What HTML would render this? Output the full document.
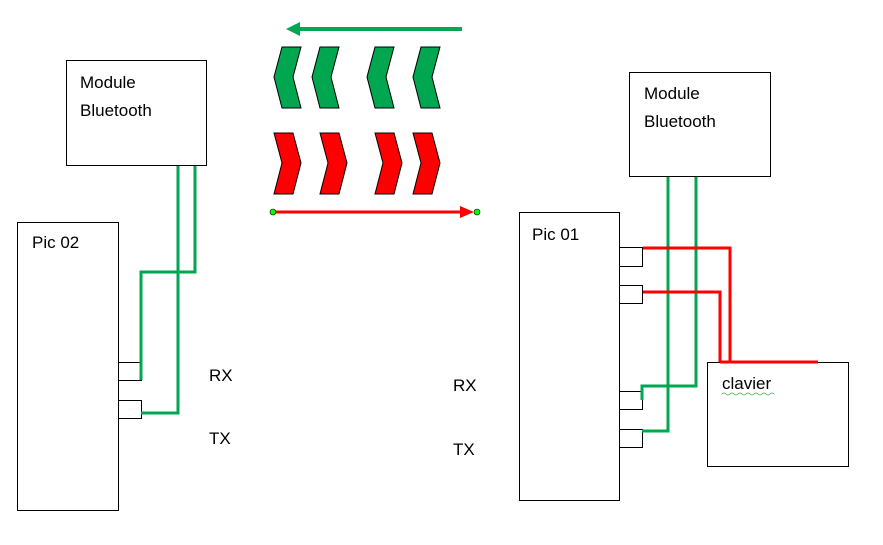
<!DOCTYPE html>
<html><head><meta charset="utf-8"><style>
body{margin:0;background:#fff;}
svg{display:block;font-family:"Liberation Sans",sans-serif;}
</style></head><body>
<svg width="883" height="545" viewBox="0 0 883 545">
<defs>
<polygon id="gc" points="8,0 27,0 19,30 27,61 8,61 0,30" fill="#00a650" stroke="#000" stroke-width="1"/>
<polygon id="rc" points="0,0 19,0 27,30 19,61 0,61 8,30" fill="#ff0000" stroke="#000" stroke-width="1"/>
</defs>
<g fill="none" stroke="#000" stroke-width="1">
<rect x="66.5" y="60.5" width="140" height="105"/>
<rect x="17.5" y="222.5" width="101" height="288"/>
<rect x="118.5" y="362.5" width="23" height="18"/>
<rect x="118.5" y="400.5" width="23" height="18"/>
<rect x="629.5" y="72.5" width="141" height="104"/>
<rect x="519.5" y="212.5" width="100" height="288"/>
<rect x="619.5" y="247.5" width="23" height="19"/>
<rect x="619.5" y="285.5" width="23" height="18"/>
<rect x="619.5" y="391.5" width="23" height="18"/>
<rect x="619.5" y="429.5" width="23" height="18"/>
<rect x="707.5" y="362.5" width="141" height="104"/>
</g>
<g fill="none" stroke="#00a650" stroke-width="3">
<polyline points="178,166 178,413 141,413"/>
<polyline points="195,166 195,272 141,272 141,380"/>
<polyline points="668,177 668,431 642,431"/>
<polyline points="696,177 696,386 642,386 642,400"/>
</g>
<g fill="none" stroke="#ff0000" stroke-width="3">
<polyline points="643,248 730,248 730,362"/>
<polyline points="643,292 720,292 720,362"/>
<line x1="720" y1="362" x2="818" y2="362"/>
</g>
<use href="#gc" x="274" y="47"/><use href="#gc" x="312" y="47"/><use href="#gc" x="367" y="47"/><use href="#gc" x="413" y="47"/>
<use href="#rc" x="274" y="133"/><use href="#rc" x="320" y="133"/><use href="#rc" x="375" y="133"/><use href="#rc" x="413" y="133"/>
<line x1="462" y1="29" x2="298" y2="29" stroke="#00a650" stroke-width="4"/>
<polygon points="286,29 300,22 300,36" fill="#00a650"/>
<line x1="273" y1="212" x2="462" y2="212" stroke="#ff0000" stroke-width="3"/>
<polygon points="474,212 460,206 460,218" fill="#ff0000"/>
<circle cx="273" cy="212" r="3" fill="#00ff00" stroke="#000" stroke-width="0.6"/>
<circle cx="477" cy="212" r="3" fill="#00ff00" stroke="#000" stroke-width="0.6"/>
<g font-size="17" fill="#000">
<text x="80" y="88">Module</text>
<text x="80" y="116">Bluetooth</text>
<text x="32" y="248">Pic 02</text>
<text x="209" y="381">RX</text>
<text x="209" y="444">TX</text>
<text x="644" y="99">Module</text>
<text x="644" y="127">Bluetooth</text>
<text x="532" y="240">Pic  01</text>
<text x="453" y="391">RX</text>
<text x="453" y="455">TX</text>
<text x="722" y="389">clavier</text>
</g>
<path d="M722,394 q2,-2 4,0 t4,0 t4,0 t4,0 t4,0 t4,0 t4,0 t4,0 t4,0 t4,0 t4,0 t4,0 t4,0" fill="none" stroke="#4a4" stroke-width="0.8"/>
</svg>
</body></html>
